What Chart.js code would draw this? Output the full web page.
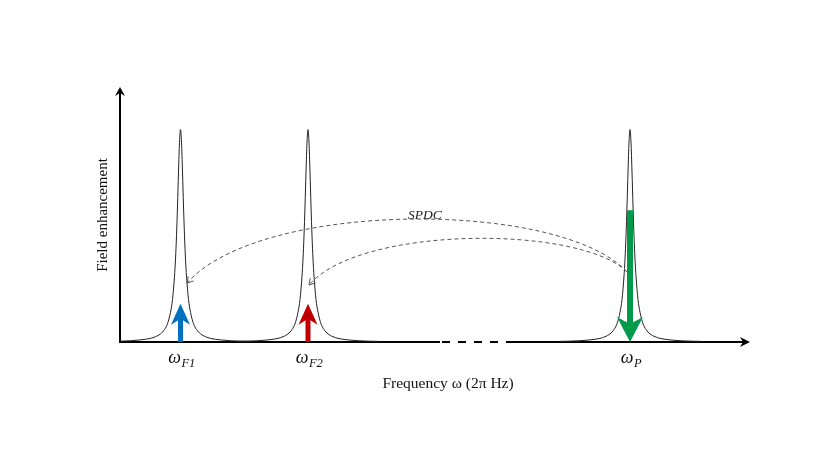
<!DOCTYPE html>
<html>
<head>
<meta charset="utf-8">
<script src="https://cdn.jsdelivr.net/npm/chart.js@4/dist/chart.umd.min.js"></script>
<style>
  html, body { margin: 0; padding: 0; background: #fff; }
  #wrap { width: 830px; height: 467px; }
</style>
</head>
<body>
<div id="wrap"><canvas id="chart" width="830" height="467"></canvas></div>
<script>
// Axis ranges (frequency in arbitrary units, field enhancement in %)
const freqRange = [0, 630];
const fieldRange = [0, 120];

// Resonance modes
const modeCenters = [60.5, 188, 510];
const modeNames = ['F1', 'F2', 'P'];

// Line shape of one resonance (offset from centre, height)
const profileOffsets = [-70, -60, -50, -40, -30, -25, -20, -16, -13, -10, -8, -6, -5, -4, -3, -2, -1, 0,
                        1, 2, 3, 4, 5, 6, 8, 10, 13, 16, 20, 25, 30, 40, 50, 60, 70];
const profileHeights = [0.3, 0.4, 0.6, 1.0, 1.7, 2.5, 3.8, 5.9, 8.6, 14, 20, 31, 39, 50, 64, 80, 94, 100,
                        94, 80, 64, 50, 39, 31, 20, 14, 8.6, 5.9, 3.8, 2.5, 1.7, 1.0, 0.6, 0.4, 0.3];

// Field arrows: [from, to] in field units
const signalArrow = [0, 18];
const pumpArrow = [62, 0];
const arrowColors = ['#0070C0', '#C00000', '#009A4A'];

// SPDC arcs: cubic curve control points [freq, field]
const outerArc = [[507, 33], [440, 67], [140, 67], [67, 27.7]];
const innerArc = [[507, 33], [460, 55], [240, 55], [189, 26.8]];
const spdcLabel = [288, 57.8];

// Broken part of the frequency axis
const axisBreak = [320, 387];

const datasets = modeCenters.map((c) => ({
    data: profileOffsets.map((o, i) => ({ x: c + o, y: profileHeights[i] })).filter(p => p.x >= freqRange[0]),
    borderColor: '#222',
    borderWidth: 1,
    pointRadius: 0,
    cubicInterpolationMode: 'monotone',
    clip: false
}));

function stealthHead(ctx, tipX, tipY, dirX, dirY, len, half, notch) {
    const px = -dirY, py = dirX;
    const bx = tipX - dirX * len, by = tipY - dirY * len;
    ctx.beginPath();
    ctx.moveTo(tipX, tipY);
    ctx.lineTo(bx + px * half, by + py * half);
    ctx.lineTo(tipX - dirX * (len - notch), tipY - dirY * (len - notch));
    ctx.lineTo(bx - px * half, by - py * half);
    ctx.closePath();
    ctx.fill();
}

function chevron(ctx, tipX, tipY, dirX, dirY, len, half) {
    const px = -dirY, py = dirX;
    const bx = tipX - dirX * len, by = tipY - dirY * len;
    ctx.beginPath();
    ctx.moveTo(bx + px * half, by + py * half);
    ctx.lineTo(tipX, tipY);
    ctx.lineTo(bx - px * half, by - py * half);
    ctx.stroke();
}

const diagram = {
    id: 'diagram',
    beforeDatasetsDraw(chart) {
        const { ctx, scales: { x, y } } = chart;
        const x0 = x.getPixelForValue(freqRange[0]);
        const x1 = x.getPixelForValue(freqRange[1]);
        const y0 = y.getPixelForValue(fieldRange[0]);
        const y1 = y.getPixelForValue(fieldRange[1]);
        const b0 = x.getPixelForValue(axisBreak[0]);
        const b1 = x.getPixelForValue(axisBreak[1]);
        ctx.save();
        ctx.strokeStyle = '#000';
        ctx.fillStyle = '#000';
        ctx.lineWidth = 2;
        // y axis
        ctx.beginPath();
        ctx.moveTo(x0, y0 + 1);
        ctx.lineTo(x0, y1 + 6);
        ctx.stroke();
        stealthHead(ctx, x0, y1, 0, -1, 9, 5, 3);
        // x axis, with dashed break
        ctx.beginPath();
        ctx.moveTo(x0 - 1, y0);
        ctx.lineTo(b0, y0);
        ctx.moveTo(b1, y0);
        ctx.lineTo(x1 - 6, y0);
        ctx.stroke();
        ctx.setLineDash([8, 8]);
        ctx.beginPath();
        ctx.moveTo(b0 + 2, y0);
        ctx.lineTo(b1, y0);
        ctx.stroke();
        ctx.setLineDash([]);
        stealthHead(ctx, x1, y0, 1, 0, 10, 5, 3);
        ctx.restore();
    },
    afterDatasetsDraw(chart) {
        const { ctx, scales: { x, y } } = chart;
        ctx.save();

        // field arrows
        modeCenters.forEach((c, i) => {
            const range = i < 2 ? signalArrow : pumpArrow;
            const px = x.getPixelForValue(c);
            const ys = y.getPixelForValue(range[0]);
            const ye = y.getPixelForValue(range[1]);
            const dir = ye < ys ? -1 : 1;
            const big = i === 2;
            const len = big ? 25 : 21, half = big ? 13 : 9.5, notch = big ? 7 : 6;
            ctx.fillStyle = arrowColors[i];
            ctx.strokeStyle = arrowColors[i];
            ctx.lineWidth = big ? 6 : 5;
            ctx.beginPath();
            ctx.moveTo(px, ys);
            ctx.lineTo(px, ye - dir * (len - notch - 1));
            ctx.stroke();
            stealthHead(ctx, px, ye, 0, dir, len, half, notch);
        });

        // SPDC arcs
        ctx.strokeStyle = '#555';
        ctx.lineWidth = 1;
        [outerArc, innerArc].forEach(arc => {
            const p = arc.map(([f, v]) => [x.getPixelForValue(f), y.getPixelForValue(v)]);
            ctx.setLineDash([4, 3]);
            ctx.beginPath();
            ctx.moveTo(p[0][0], p[0][1]);
            ctx.bezierCurveTo(p[1][0], p[1][1], p[2][0], p[2][1], p[3][0], p[3][1]);
            ctx.stroke();
            ctx.setLineDash([]);
            const dx = p[3][0] - p[2][0], dy = p[3][1] - p[2][1];
            const d = Math.hypot(dx, dy);
            chevron(ctx, p[3][0], p[3][1], dx / d, dy / d, 6, 3.5);
        });
        ctx.font = 'italic 13.5px "Liberation Serif"';
        ctx.fillStyle = '#222';
        ctx.textAlign = 'left';
        ctx.textBaseline = 'alphabetic';
        ctx.fillText('SPDC', x.getPixelForValue(spdcLabel[0]), y.getPixelForValue(spdcLabel[1]));

        // mode labels
        const yb = y.getPixelForValue(fieldRange[0]);
        const omegaFont = 'italic 18px "Liberation Serif"';
        const subFont = 'italic 12.5px "Liberation Serif"';
        modeCenters.forEach((c, i) => {
            ctx.font = omegaFont;
            const wOmega = ctx.measureText('ω').width;
            ctx.font = subFont;
            const wSub = ctx.measureText(modeNames[i]).width;
            const start = x.getPixelForValue(c) + 1 - (wOmega + wSub) / 2;
            ctx.fillStyle = '#111';
            ctx.textAlign = 'left';
            ctx.font = omegaFont;
            ctx.fillText('ω', start, yb + 21);
            ctx.font = subFont;
            ctx.fillText(modeNames[i], start + wOmega + 0.5, yb + 25);
        });

        // axis titles
        ctx.fillStyle = '#111';
        ctx.textAlign = 'center';
        ctx.font = '15.5px "Liberation Serif"';
        ctx.fillText('Frequency ω (2π Hz)', 448, yb + 46);
        ctx.font = '15px "Liberation Serif"';
        ctx.translate(107, 215);
        ctx.rotate(-Math.PI / 2);
        ctx.fillText('Field enhancement', 0, 0);
        ctx.restore();
    }
};

new Chart(document.getElementById('chart'), {
    type: 'line',
    data: { datasets },
    options: {
        responsive: false,
        animation: false,
        layout: { padding: { left: 120, right: 80, top: 87, bottom: 125 } },
        plugins: { legend: { display: false }, tooltip: { enabled: false } },
        scales: {
            x: { type: 'linear', min: freqRange[0], max: freqRange[1], display: false },
            y: { type: 'linear', min: fieldRange[0], max: fieldRange[1], display: false }
        }
    },
    plugins: [diagram]
});
</script>
</body>
</html>
